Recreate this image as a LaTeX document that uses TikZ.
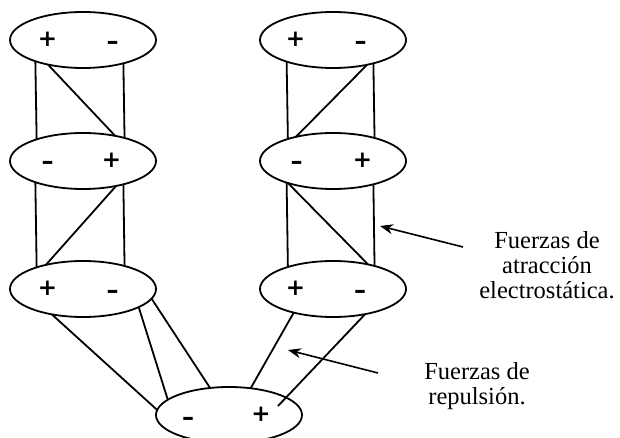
\documentclass[tikz,border=0pt]{standalone}
\usepackage{fontspec}
\setmainfont{Liberation Serif}
\newfontfamily\signfont{DejaVu Sans}
\usetikzlibrary{shapes.geometric,arrows.meta}
\begin{document}
\begin{tikzpicture}[x=1pt,y=-1pt,
  mol/.style={draw,ellipse,line width=1.8pt,minimum width=146pt,minimum height=56pt,inner sep=0pt,outer sep=0pt},
  plussign/.style={font=\signfont\bfseries\fontsize{23}{23}\selectfont,inner sep=0pt},
  minussign/.style={font=\signfont\bfseries\fontsize{24}{24}\selectfont,inner sep=0pt,yshift=-4pt},
  bond/.style={line width=1.8pt},
  lbl/.style={align=center,font=\fontsize{24.5}{25}\selectfont,inner sep=0pt},
  arr/.style={line width=1.6pt,-{Stealth[length=13pt,width=10pt]}}]
\useasboundingbox (0,0) rectangle (620,438);
\clip (0,0) rectangle (620,438);
% molecules
\node[mol] (e1) at (83,40) {};
\node[mol] (e2) at (83,161) {};
\node[mol] (e3) at (83,289) {};
\node[mol] (e4) at (333,40) {};
\node[mol] (e5) at (333,161) {};
\node[mol] (e6) at (333,289) {};
\node[mol] (eb) at (229,415) {};
% charges
\node[plussign] (e1p) at (47.5,39.5) {+};
\node[minussign] (e1m) at (112.5,41.5) {\textendash};
\node[minussign] (e2m) at (47.5,161.5) {\textendash};
\node[plussign] (e2p) at (111.5,160) {+};
\node[plussign] (e3p) at (47.5,288.5) {+};
\node[minussign] (e3m) at (112.5,290) {\textendash};
\node[plussign] (e4p) at (295.5,39.5) {+};
\node[minussign] (e4m) at (360.5,41.5) {\textendash};
\node[minussign] (e5m) at (296.5,161.5) {\textendash};
\node[plussign] (e5p) at (362.5,160) {+};
\node[plussign] (e6p) at (295.5,288.5) {+};
\node[minussign] (e6m) at (360,290) {\textendash};
\node[minussign] (ebm) at (188,417) {\textendash};
\node[plussign] (ebp) at (261,414) {+};
% attraction bonds, left column
\draw[bond] (e1.204.5) -- (e2.155.5);
\draw[bond] (e1.330.5) -- (e2.29.5);
\draw[bond] (e1.215.1) -- (e2.38.2);
\draw[bond] (e2.204.5) -- (e3.155.5);
\draw[bond] (e2.330.5) -- (e3.29.5);
\draw[bond] (e2.323.9) -- (e3.147.8);
% attraction bonds, right column
\draw[bond] (e4.205.3) -- (e5.154.7);
\draw[bond] (e4.330.5) -- (e5.29.5);
\draw[bond] (e4.324.9) -- (e5.147.8);
\draw[bond] (e5.205.3) -- (e6.154.7);
\draw[bond] (e5.330.5) -- (e6.29.5);
\draw[bond] (e5.206.9) -- (e6.35.1);
% bonds to bottom molecule
\coordinate (pend) at (278,406);
\draw[bond] (e3.219.2) -- (eb.176);
\draw[bond] (e3.342.9) -- (eb.166.6);
\draw[bond] (e3.352.5) -- (eb.125.1);
\draw[bond] (e6.211.3) -- (eb.51.9);
\draw[bond] (e6.322.9) -- (pend);
% labels
\node[lbl] (t1) at (547,265.5) {Fuerzas de\\atracción\\electrostática.};
\node[lbl] (t2) at (477,386.5) {Fuerzas de\\repulsión.};
\coordinate (a1s) at (463,247);
\coordinate (a1e) at (380,226);
\coordinate (a2s) at (378,373);
\coordinate (a2e) at (288,350);
\draw[arr] (a1s) -- (a1e);
\draw[arr] (a2s) -- (a2e);
\end{tikzpicture}
\end{document}
